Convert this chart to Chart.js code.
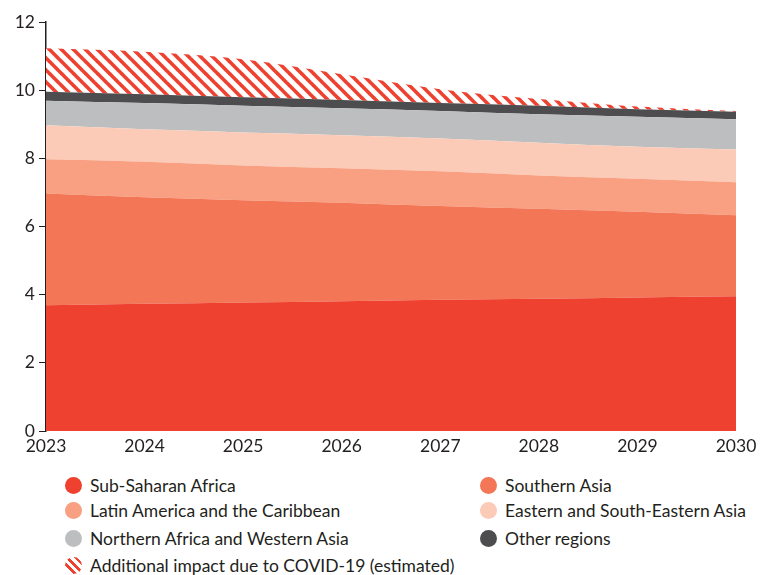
<!DOCTYPE html>
<html>
<head>
<meta charset="utf-8">
<script src="https://cdn.jsdelivr.net/npm/chart.js@4/dist/chart.umd.min.js"></script>
<style>
  body { margin: 0; background: #fff; font-family: Lato, "Open Sans", sans-serif; }
  #wrap { position: relative; width: 772px; height: 575px; }
  #box { position: absolute; left: 0; top: 0; width: 772px; height: 460px; }
  #legend { position: absolute; left: 65px; top: 473px; width: 707px; }
  .item { position: absolute; display: flex; align-items: center; font-size: 17.5px; color: #231f20; white-space: nowrap; height: 24px; }
  .dot { width: 17px; height: 17px; border-radius: 50%; margin-right: 8px; flex: none; }
</style>
</head>
<body>
<div id="wrap">
  <div id="box"><canvas id="chart"></canvas></div>
  <div id="legend"></div>
</div>
<script>
// years on the x axis
const years = ['2023', '2024', '2025', '2026', '2027', '2028', '2029', '2030'];

// stacked values per region
const subSaharan   = [3.69, 3.73, 3.77, 3.81, 3.85, 3.88, 3.92, 3.95];
const southernAsia = [3.28, 3.13, 3.00, 2.89, 2.75, 2.64, 2.51, 2.38];
const latinAmerica = [1.00, 1.04, 1.02, 1.01, 1.02, 0.98, 0.97, 0.97];
const eastAsia     = [1.00, 0.95, 0.97, 0.97, 0.96, 0.96, 0.94, 0.96];
const northAfrica  = [0.72, 0.77, 0.78, 0.79, 0.81, 0.83, 0.88, 0.89];
const otherRegions = [0.26, 0.26, 0.25, 0.24, 0.23, 0.25, 0.22, 0.22];
const covidImpact  = [1.28, 1.25, 1.12, 0.76, 0.41, 0.20, 0.08, 0.02];

const yTicks = [0, 2, 4, 6, 8, 10, 12];

// red diagonal hatch for the covid band
function makeHatch() {
    const s = 12;
    const c = document.createElement('canvas');
    c.width = s; c.height = s;
    const g = c.getContext('2d');
    g.fillStyle = '#fff';
    g.fillRect(0, 0, s, s);
    g.strokeStyle = '#ee4130';
    g.lineWidth = 3.6;
    for (let k = -1; k <= 1; k++) {
        g.beginPath();
        g.moveTo(-2, k * s - 2);
        g.lineTo(s + 2, s + k * s + 2);
        g.stroke();
    }
    return g.createPattern(c, 'repeat');
}

const ctx = document.getElementById('chart');
const hatch = makeHatch();

const series = [
    { label: 'Sub-Saharan Africa', data: subSaharan, color: '#ee4130' },
    { label: 'Southern Asia', data: southernAsia, color: '#f37656' },
    { label: 'Latin America and the Caribbean', data: latinAmerica, color: '#f8a081' },
    { label: 'Eastern and South-Eastern Asia', data: eastAsia, color: '#fccbb7' },
    { label: 'Northern Africa and Western Asia', data: northAfrica, color: '#bdbec0' },
    { label: 'Other regions', data: otherRegions, color: '#4d4d4f' },
    { label: 'Additional impact due to COVID-19 (estimated)', data: covidImpact, color: hatch }
];

const datasets = series.map((s, i) => ({
    label: s.label,
    data: s.data,
    backgroundColor: s.color,
    borderWidth: 0,
    pointRadius: 0,
    fill: i === 0 ? 'origin' : '-1',
    cubicInterpolationMode: 'monotone'
}));

new Chart(ctx, {
    type: 'line',
    data: { labels: years, datasets: datasets },
    options: {
        responsive: true,
        maintainAspectRatio: false,
        animation: false,
        layout: { padding: { top: 22, right: 36, left: 0, bottom: 0 } },
        scales: {
            x: {
                offset: false,
                grid: { display: false, drawTicks: false },
                border: { display: false },
                ticks: { color: '#231f20', font: { family: 'Lato', size: 17.5 }, padding: 5, maxRotation: 0 },
                afterFit: sc => { sc.height = 29; }
            },
            y: {
                stacked: true,
                min: 0,
                max: 12,
                afterBuildTicks: sc => { sc.ticks = yTicks.map(v => ({ value: v })); },
                grid: { drawOnChartArea: false, drawTicks: true, tickLength: 7, color: '#231f20', lineWidth: 1 },
                border: { display: true, color: '#231f20', width: 1.5 },
                ticks: { color: '#231f20', font: { family: 'Lato', size: 17.5 }, padding: 4 },
                afterFit: sc => { sc.width = 46; }
            }
        },
        plugins: {
            legend: { display: false },
            tooltip: { enabled: false }
        }
    }
});

// two-column legend below the chart
const legend = document.getElementById('legend');
const spots = [[0, 12], [415, 12], [0, 37], [415, 37], [0, 65], [415, 65], [0, 92]];
series.forEach((s, i) => {
    const it = document.createElement('div');
    it.className = 'item';
    it.style.left = spots[i][0] + 'px';
    it.style.top = (spots[i][1] - 12) + 'px';
    const d = document.createElement('span');
    d.className = 'dot';
    if (typeof s.color === 'string') {
        d.style.background = s.color;
    } else {
        d.style.background = 'repeating-linear-gradient(45deg, #ee4130 0 2.5px, #fff 2.5px 6px)';
    }
    it.appendChild(d);
    it.appendChild(document.createTextNode(s.label));
    legend.appendChild(it);
});
</script>
</body>
</html>
